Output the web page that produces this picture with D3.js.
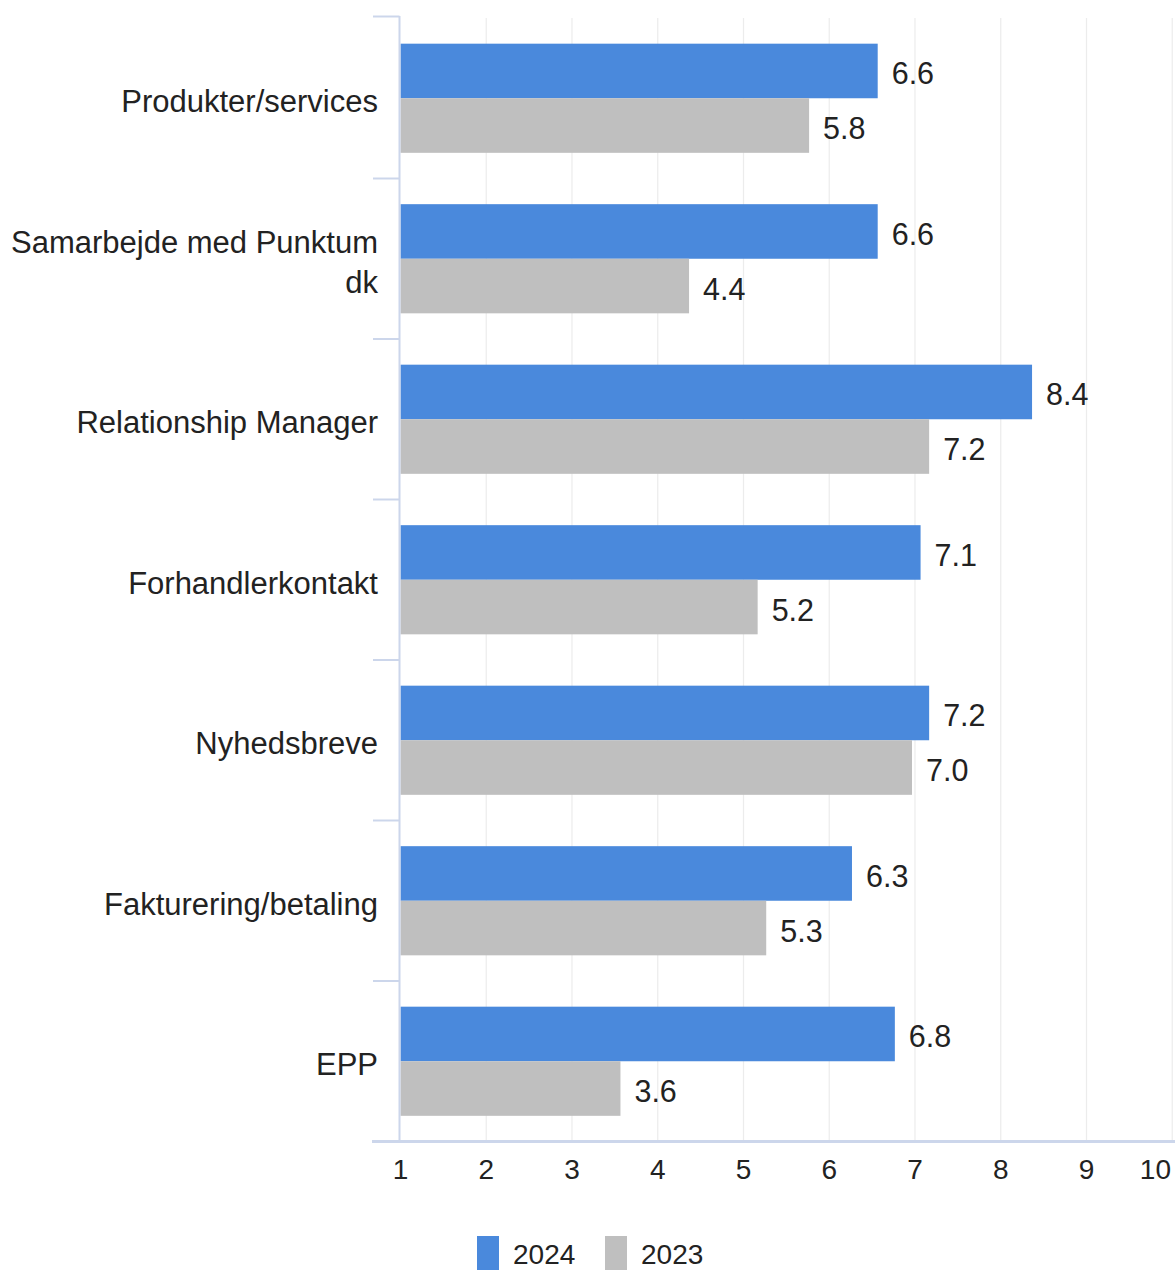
<!DOCTYPE html>
<html>
<head>
<meta charset="utf-8">
<script src="https://cdn.jsdelivr.net/npm/d3@7"></script>
<style>
  html, body { margin: 0; padding: 0; background: #ffffff; }
  svg { display: block; font-family: "Liberation Sans", Arial, sans-serif; }
</style>
</head>
<body>
<svg id="chart" width="1175" height="1270"></svg>
<script>
const categories = [
  ["Produkter/services"],
  ["Samarbejde med Punktum", "dk"],
  ["Relationship Manager"],
  ["Forhandlerkontakt"],
  ["Nyhedsbreve"],
  ["Fakturering/betaling"],
  ["EPP"]
];
const seriesNames = ["2024", "2023"];
const values2024 = [6.6, 6.6, 8.4, 7.1, 7.2, 6.3, 6.8];
const values2023 = [5.8, 4.4, 7.2, 5.2, 7.0, 5.3, 3.6];
const xTicks = [1, 2, 3, 4, 5, 6, 7, 8, 9, 10];
const colors = ["#4a89dc", "#bfbfbf"];

(function () {
const svg = d3.select("#chart");
const mLeft = 400.5, mRight = 1172.25, mTop = 18, mBottom = 1141.5;

const x = d3.scaleLinear().domain([1, 10]).range([mLeft, mRight]);
const y = d3.scaleBand().domain(d3.range(categories.length)).range([mTop, mBottom]).paddingInner(0).paddingOuter(0);
const ys = d3.scaleBand().domain(seriesNames).range([y.bandwidth() * 0.16, y.bandwidth() * 0.84]).padding(0);

const series = [values2024, values2023];

// gridlines
svg.append("g").selectAll("line").data(xTicks.slice(1)).join("line")
  .attr("x1", d => x(d)).attr("x2", d => x(d))
  .attr("y1", mTop).attr("y2", mBottom)
  .attr("stroke", "#ececec").attr("stroke-width", 1.2);

// bars
const groups = svg.append("g").selectAll("g").data(categories).join("g")
  .attr("transform", (d, i) => `translate(0,${y(i)})`);

seriesNames.forEach((name, si) => {
  groups.append("rect")
    .attr("x", x(1))
    .attr("y", ys(name))
    .attr("width", (d, i) => x(series[si][i]) - x(1) - 3)
    .attr("height", ys.bandwidth())
    .attr("fill", colors[si]);
  groups.append("text")
    .attr("x", (d, i) => x(series[si][i]) + 11)
    .attr("y", ys(name) + ys.bandwidth() / 2 + 13.5)
    .attr("font-size", 30.5)
    .attr("fill", "#222")
    .text((d, i) => series[si][i].toFixed(1));
});

// y axis line and category ticks
svg.append("line").attr("x1", 399.5).attr("x2", 399.5).attr("y1", 16).attr("y2", mBottom)
  .attr("stroke", "#ccd6eb").attr("stroke-width", 2);
svg.append("g").selectAll("line").data(d3.range(categories.length + 1)).join("line")
  .attr("x1", 373).attr("x2", 399.5)
  .attr("y1", i => i === 0 ? 16.5 : y.step() * i + mTop)
  .attr("y2", i => i === 0 ? 16.5 : y.step() * i + mTop)
  .attr("stroke", "#ccd6eb").attr("stroke-width", 2);

// category labels
const catLabels = svg.append("g").selectAll("text").data(categories).join("text")
  .attr("text-anchor", "end")
  .attr("font-size", 31)
  .attr("fill", "#222");
catLabels.each(function(lines, i) {
  const cy = y(i) + y.bandwidth() / 2;
  const lh = 40;
  const start = cy + 14 - (lines.length - 1) * lh / 2;
  d3.select(this).selectAll("tspan").data(lines).join("tspan")
    .attr("x", 378)
    .attr("y", (l, j) => start + j * lh)
    .text(l => l);
});

// x axis
svg.append("line").attr("x1", 372).attr("x2", 1175).attr("y1", mBottom).attr("y2", mBottom)
  .attr("stroke", "#ccd6eb").attr("stroke-width", 3);
svg.append("g").selectAll("text").data(xTicks).join("text")
  .attr("x", d => d === 10 ? 1171 : x(d))
  .attr("y", 1179)
  .attr("text-anchor", d => d === 10 ? "end" : "middle")
  .attr("font-size", 28)
  .attr("fill", "#222")
  .text(d => d);

// legend
const legendItems = [{x: 477, tx: 513}, {x: 605, tx: 641}];
const lg = svg.append("g").selectAll("g").data(seriesNames).join("g");
lg.append("rect")
  .attr("x", (d, i) => legendItems[i].x).attr("y", 1236)
  .attr("width", 22).attr("height", 36)
  .attr("fill", (d, i) => colors[i]);
lg.append("text")
  .attr("x", (d, i) => legendItems[i].tx).attr("y", 1264)
  .attr("font-size", 28).attr("fill", "#222")
  .text(d => d);
})();
</script>
</body>
</html>
